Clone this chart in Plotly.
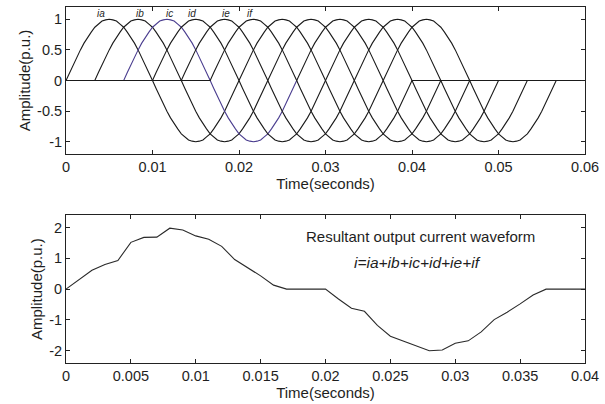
import plotly.graph_objects as go
from plotly.subplots import make_subplots

# ---------------- data ----------------
# Six phase currents ia..if, each lasting two 50 Hz cycles (0.02 s period)
phase_names = ["ia", "ib", "ic", "id", "ie", "if"]
phase_start = [0.0, 0.00333, 0.00667, 0.01, 0.01333, 0.01667]   # s
cycle_period = 0.02                                             # s
cycles_per_phase = 2
# one positive half-wave, sampled every 7.5 degrees (p.u.)
half_wave = [0.0, 0.13, 0.26, 0.38, 0.5, 0.61, 0.71, 0.79, 0.87, 0.92, 0.97, 0.99,
             1.0, 0.99, 0.97, 0.92, 0.87, 0.79, 0.71, 0.61, 0.5, 0.38, 0.26, 0.13, 0.0]
time_span_top = [0.0, 0.06]

# Resultant output current i = ia+ib+ic+id+ie+if, sampled every 1 ms
t_res = [0.0, 0.001, 0.002, 0.003, 0.004, 0.005, 0.006, 0.007, 0.008, 0.009, 0.010,
         0.011, 0.012, 0.013, 0.014, 0.015, 0.016, 0.017, 0.018, 0.019, 0.020,
         0.021, 0.022, 0.023, 0.024, 0.025, 0.026, 0.027, 0.028, 0.029, 0.030,
         0.031, 0.032, 0.033, 0.034, 0.035, 0.036, 0.037, 0.038, 0.039, 0.040]
i_res = [0.0, 0.32, 0.61, 0.80, 0.93, 1.52, 1.68, 1.69, 1.98, 1.92, 1.73,
         1.62, 1.39, 0.96, 0.69, 0.43, 0.13, 0.0, 0.0, 0.0, 0.0,
         -0.32, -0.62, -0.72, -1.18, -1.53, -1.68, -1.84, -2.0, -1.98, -1.76,
         -1.68, -1.39, -0.99, -0.75, -0.48, -0.19, 0.0, 0.0, 0.0, 0.0]

top_yticks = [-1, -0.5, 0, 0.5, 1]
top_yticktext = ["-1", "-0.5", "0", "0.5", "1"]
top_xticks = [0, 0.01, 0.02, 0.03, 0.04, 0.05, 0.06]
top_xticktext = ["0", "0.01", "0.02", "0.03", "0.04", "0.05", "0.06"]
bot_yticks = [-2, -1, 0, 1, 2]
bot_yticktext = ["-2", "-1", "0", "1", "2"]
bot_xticks = [0, 0.005, 0.01, 0.015, 0.02, 0.025, 0.03, 0.035, 0.04]
bot_xticktext = ["0", "0.005", "0.01", "0.015", "0.02", "0.025", "0.03", "0.035", "0.04"]

# ---------------- styling ----------------
FONT = "Liberation Sans, Arial, sans-serif"
TXT = "#1e1e1e"
LINE = "#1a1a1a"
# first cycle colour of each phase (ic highlighted), later cycles drawn in LINE
first_cycle_colors = [LINE, LINE, "#4a3d8f", LINE, LINE, LINE]
label_x = [0.0041, 0.0085, 0.0120, 0.0146, 0.0185, 0.0213]   # phase-name label spots
label_y = 1.1

fig = make_subplots(rows=2, cols=1, vertical_spacing=0.0)


def phase_wave(start):
    """Two-cycle waveform for one phase, zero outside its active interval.
    Returns the points split into (first cycle incl. leading zeros, the rest)."""
    n_half = len(half_wave) - 1
    step = cycle_period / 2 / n_half
    xs, ys = [time_span_top[0]], [0.0]
    split = None
    for h in range(2 * cycles_per_phase):
        sign = 1 if h % 2 == 0 else -1
        for k, v in enumerate(half_wave):
            if h > 0 and k == 0:
                continue
            xs.append(start + (h * n_half + k) * step)
            ys.append(sign * v)
        if h == 1:
            split = len(xs)
    xs.append(time_span_top[1])
    ys.append(0.0)
    return (xs[:split], ys[:split]), (xs[split - 1:], ys[split - 1:])


for name, start, col in zip(phase_names, phase_start, first_cycle_colors):
    (x1, y1), (x2, y2) = phase_wave(start)
    fig.add_trace(go.Scatter(x=x2, y=y2, mode="lines", name=name,
                             line=dict(color=LINE, width=1.1)), row=1, col=1)
    fig.add_trace(go.Scatter(x=x1, y=y1, mode="lines", name=name,
                             line=dict(color=col, width=1.1)), row=1, col=1)

fig.add_trace(go.Scatter(x=t_res, y=i_res, mode="lines", name="i",
                         line=dict(color="#2a2a2a", width=1.1)), row=2, col=1)

axis_common = dict(showline=True, linecolor="#222", linewidth=1, mirror="ticks",
                   ticks="inside", ticklen=4, tickcolor="#222", showgrid=False,
                   zeroline=False, tickfont=dict(family=FONT, size=14.5, color=TXT))
title_font = dict(family=FONT, size=15, color=TXT)

fig.update_xaxes(axis_common, row=1, col=1, range=time_span_top, tickvals=top_xticks,
                 ticktext=top_xticktext,
                 title=dict(text="Time(seconds)", font=title_font, standoff=2))
fig.update_yaxes(axis_common, row=1, col=1, range=[-1.2, 1.2], tickvals=top_yticks,
                 ticktext=top_yticktext,
                 title=dict(text="Amplitude(p.u.)", font=title_font, standoff=2))
fig.update_xaxes(axis_common, row=2, col=1, range=[0, 0.04], tickvals=bot_xticks,
                 ticktext=bot_xticktext,
                 title=dict(text="Time(seconds)", font=title_font, standoff=2))
fig.update_yaxes(axis_common, row=2, col=1, range=[-2.4, 2.4], tickvals=bot_yticks,
                 ticktext=bot_yticktext,
                 title=dict(text="Amplitude(p.u.)", font=title_font, standoff=2))

fig.update_layout(
    width=605, height=404,
    margin=dict(l=66, r=16, t=6, b=41),
    paper_bgcolor="white", plot_bgcolor="white",
    showlegend=False,
    xaxis=dict(domain=[0, 1]), yaxis=dict(domain=[0.587, 1.0]),
    xaxis2=dict(domain=[0, 1]), yaxis2=dict(domain=[0.0, 0.415]),
)

for name, lx in zip(phase_names, label_x):
    fig.add_annotation(x=lx, y=label_y, xref="x", yref="y", text=f"<i>{name}</i>",
                       showarrow=False, font=dict(family=FONT, size=10, color=TXT))

fig.add_annotation(x=0.0273, y=1.71, xref="x2", yref="y2",
                   text="Resultant output current waveform", showarrow=False,
                   font=dict(family=FONT, size=15, color=TXT))
fig.add_annotation(x=0.0271, y=0.85, xref="x2", yref="y2",
                   text="<i>i=ia+ib+ic+id+ie+if</i>", showarrow=False,
                   font=dict(family=FONT, size=15.5, color=TXT))

fig.write_html("out.html")
